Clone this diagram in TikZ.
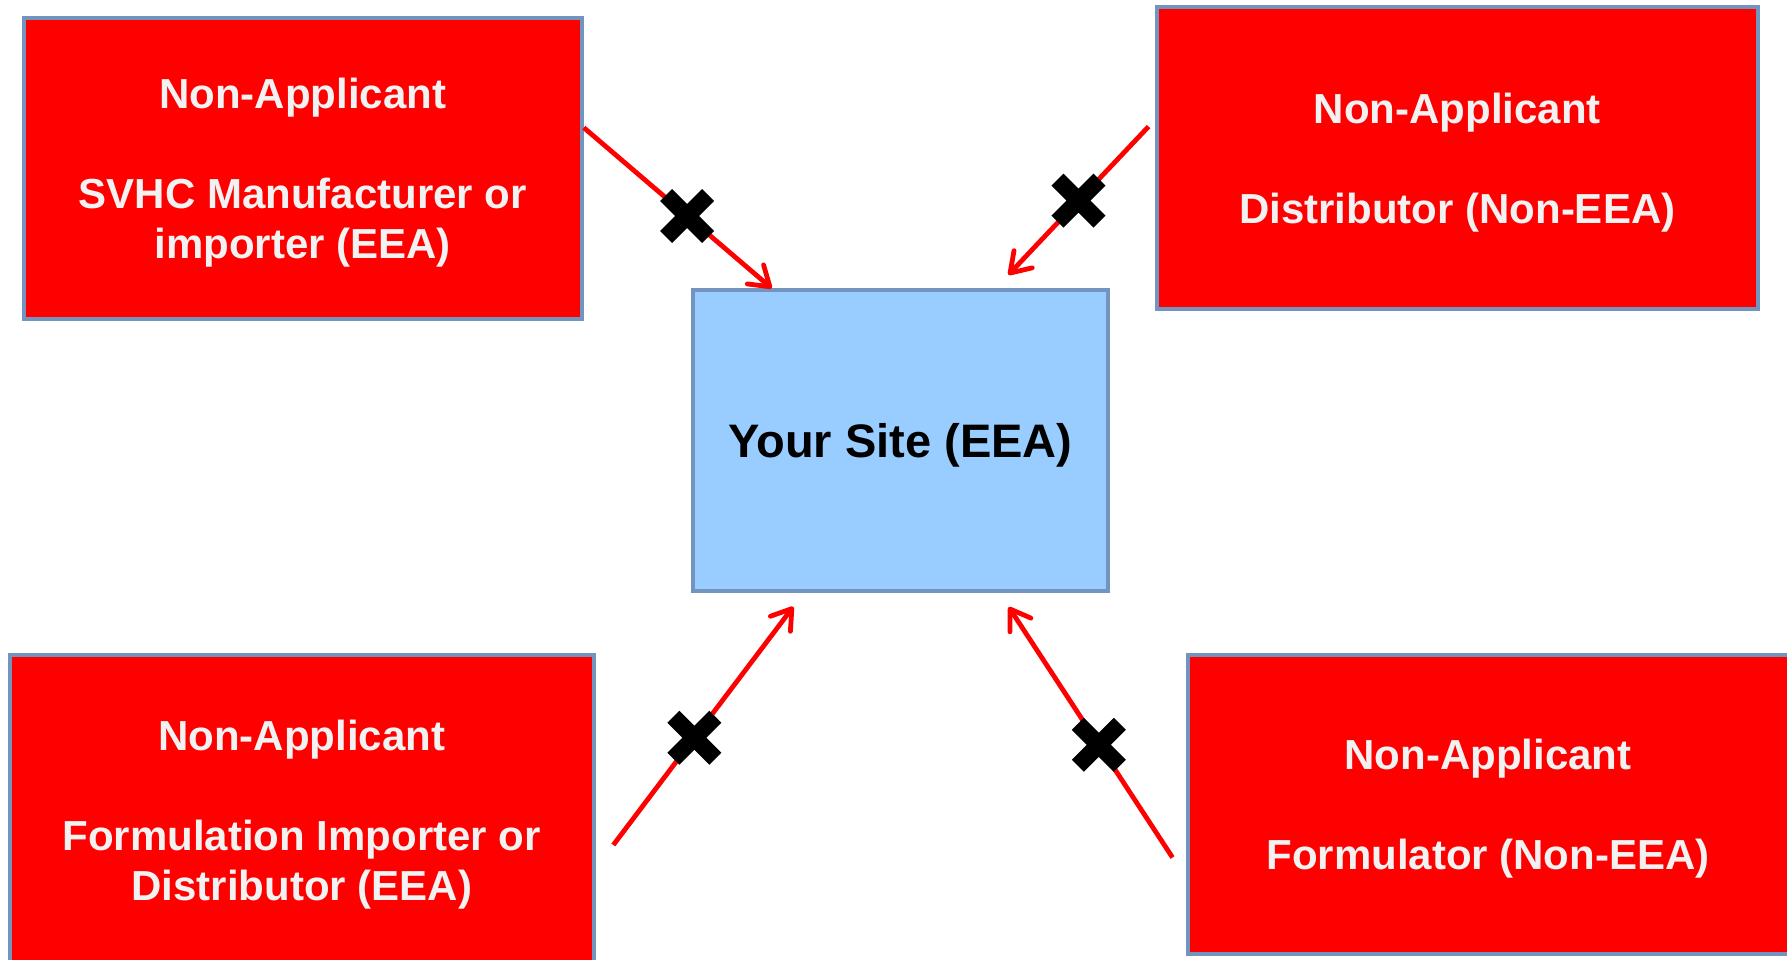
\documentclass[tikz,border=0pt]{standalone}
\usepackage{fontspec}
\setmainfont{Liberation Sans}
\usetikzlibrary{arrows.meta,shapes.misc}

\definecolor{boxred}{RGB}{255,0,0}
\definecolor{boxedge}{RGB}{114,148,190}
\definecolor{sitefill}{RGB}{153,204,255}
\definecolor{txtwhite}{RGB}{242,242,242}

\begin{document}
\begin{tikzpicture}[x=1pt,y=-1pt,
    nonapp/.style={draw=boxedge,fill=boxred,line width=4pt,inner sep=0pt,text depth=0pt,
      align=center,text=txtwhite,font=\fontsize{42}{50}\selectfont\bfseries},
    sitebox/.style={draw=boxedge,fill=sitefill,line width=4pt,inner sep=0pt,text depth=0pt,
      align=center,text=black,font=\fontsize{47}{56}\selectfont\bfseries},
    arr/.style={red,line width=4.8pt,-{Straight Barb[length=19pt,width=25pt,round]}},
    xmark/.style={cross out,draw=black,line width=17pt,minimum size=42pt,inner sep=0pt,outer sep=0pt}]
        	\useasboundingbox (0,0) rectangle (1787,959);
        	\clip (0,0) rectangle (1787,959);

        	% the site in the middle
        	\node[sitebox,minimum width=415pt,minimum height=301pt] (site) at (900.5,440.8)
        	  {Your Site (EEA)};

        	% the four non-applicants
        	\node[nonapp,minimum width=558pt,minimum height=300.7pt] (tl) at (302.8,168.4)
        	  {Non-Applicant\\[50pt]SVHC Manufacturer or\\importer (EEA)};
        	\node[nonapp,minimum width=601.3pt,minimum height=301.7pt] (tr) at (1457.2,157.9)
        	  {Non-Applicant\\[50pt]Distributor (Non-EEA)};
        	\node[nonapp,minimum width=583.7pt,minimum height=311.3pt] (bl) at (301.8,810.4)
        	  {Non-Applicant\\[50pt]Formulation Importer or\\Distributor (EEA)};
        	\node[nonapp,minimum width=601pt,minimum height=298.7pt] (br) at (1488,804.4)
        	  {Non-Applicant\\[50pt]Formulator (Non-EEA)};

        	\coordinate (tlout) at ([yshift=-111.6pt]tl.north east);
        	\coordinate (trout) at ([xshift=-6pt,yshift=-121.5pt]tr.north west);
        	\coordinate (blout) at (613.3,845);
        	\coordinate (brout) at (1172.5,857.5);

        	% blocked supply routes
        	\draw[arr] (tlout) -- node[xmark,pos=0.55] {} ([xshift=80.7pt]site.north west);
        	\draw[arr] (trout) -- node[xmark,pos=0.5] {} ([xshift=317.4pt,yshift=13.5pt]site.north west);
        	\draw[arr] (blout) -- node[xmark,pos=0.45] {} ([xshift=102.3pt,yshift=-13.4pt]site.south west);
        	\draw[arr] (brout) -- node[xmark,pos=0.45] {} ([xshift=317.7pt,yshift=-13.7pt]site.south west);
\end{tikzpicture}
\end{document}
